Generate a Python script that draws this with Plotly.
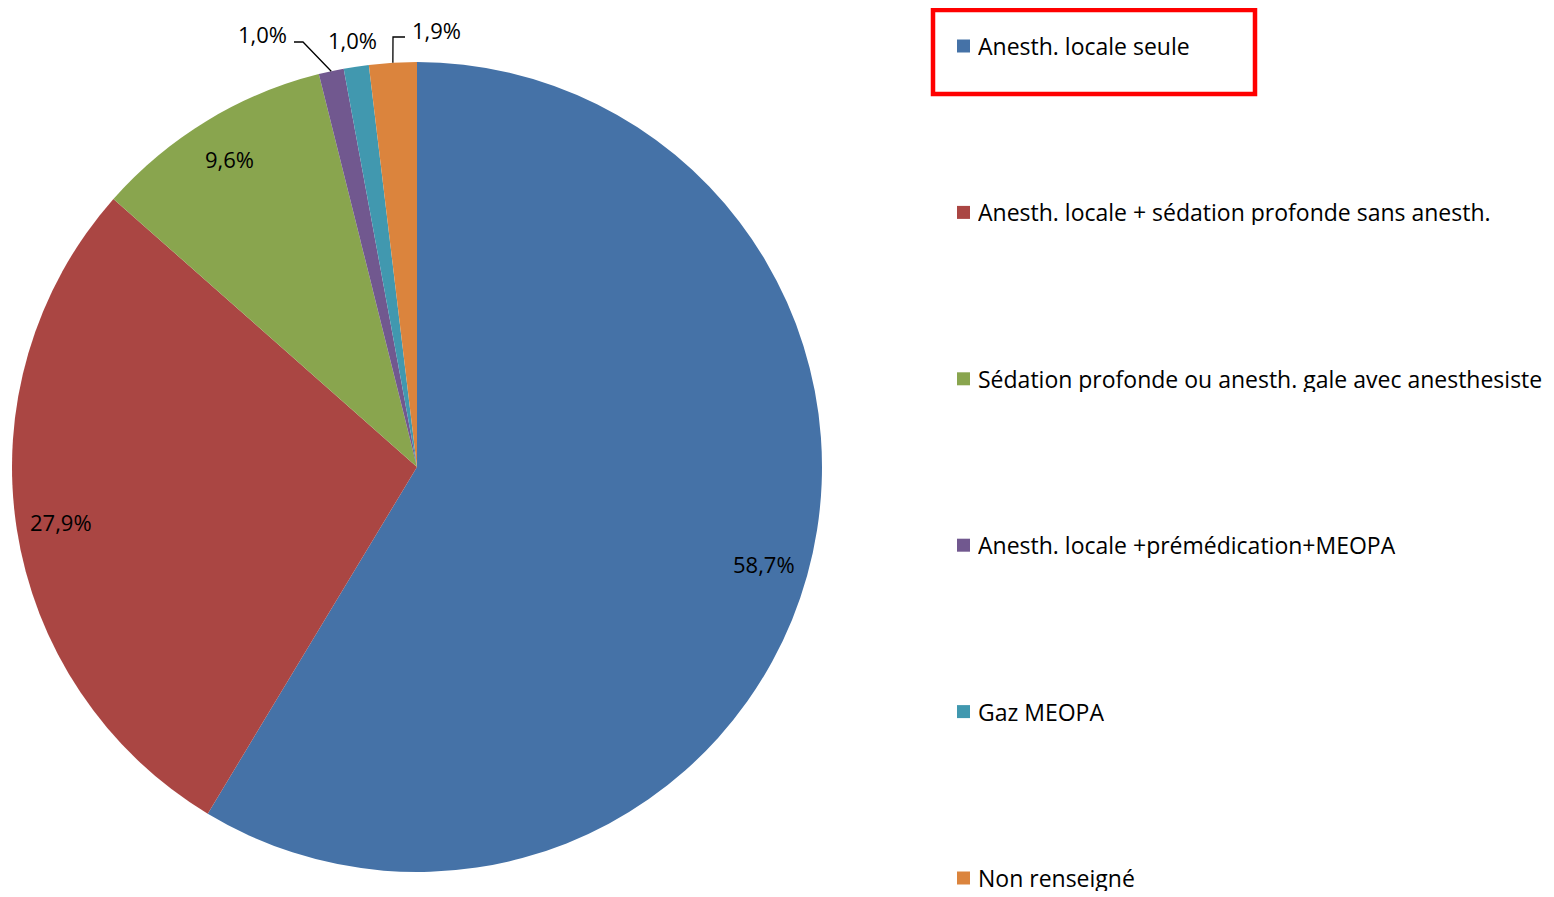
import math
import plotly.graph_objects as go

labels = [
    "Anesth. locale seule",
    "Anesth. locale + sédation profonde sans anesth.",
    "Sédation profonde ou anesth. gale avec anesthesiste",
    "Anesth. locale +prémédication+MEOPA",
    "Gaz MEOPA",
    "Non renseigné",
]
values = [58.7, 27.9, 9.6, 1.0, 1.0, 1.9]
value_text = ["58,7%", "27,9%", "9,6%", "1,0%", "1,0%", "1,9%"]
colors = ["#4572A7", "#AA4643", "#89A54E", "#71588F", "#4198AF", "#DB843D"]

# page body adds an 8px margin, so the figure is drawn 8px in from the top-left
OFF = 8
W, H = 1554 - OFF, 897 - OFF
CX, CY, R = 417 - OFF, 467 - OFF, 405
FONT = "Open Sans"


def px(x, y):
    return x / W, 1 - y / H


def rp(x, y):
    """reference-picture pixel -> paper coords"""
    return px(x - OFF, y - OFF)


fig = go.Figure()
fig.add_trace(go.Pie(
    labels=labels,
    values=values,
    sort=False,
    direction="clockwise",
    rotation=0,
    marker=dict(colors=colors, line=dict(width=0)),
    textinfo="none",
    hoverinfo="label+percent",
    showlegend=False,
    domain=dict(x=[(CX - R) / W, (CX + R) / W], y=[1 - (CY + R) / H, 1 - (CY - R) / H]),
))

total = sum(values)
cum = 0
annotations = []
shapes = []
mids = []
for v in values:
    mid = (cum + v / 2) / total * 2 * math.pi
    mids.append(mid)
    cum += v


def edge(i, f=1.0):
    a = mids[i]
    return CX + R * f * math.sin(a), CY - R * f * math.cos(a)


# inside labels for large slices
for i, v in enumerate(values):
    if v > 5:
        x, y = edge(i, 0.89)
        xp, yp = px(x, y)
        annotations.append(dict(x=xp, y=yp, xref="paper", yref="paper", text=value_text[i],
                                showarrow=False, font=dict(family=FONT, size=22, color="black"),
                                xanchor="center", yanchor="middle"))

# outside labels for small slices (label centres + elbow leader lines, reference pixels)
outside = {3: ((262, 34), [(303, 42), (294, 42)]),
           4: ((352, 40), None),
           5: ((436, 30), [(393, 37), (405, 37)])}
for i, (pos, elbow) in outside.items():
    xp, yp = rp(*pos)
    annotations.append(dict(x=xp, y=yp, xref="paper", yref="paper", text=value_text[i],
                            showarrow=False, font=dict(family=FONT, size=22, color="black"),
                            xanchor="center", yanchor="middle"))
    if elbow:
        ex, ey = edge(i, 1.0)
        pts = [px(ex, ey)] + [rp(a, b) for a, b in elbow]
        path = "M " + " L ".join(f"{a},{b}" for a, b in pts)
        shapes.append(dict(type="path", xref="paper", yref="paper", path=path,
                           line=dict(color="black", width=1.3)))

# manual legend (reference pixels)
LEG_X, LEG_Y0, LEG_DY, SQ = 957, 46, 166.4, 13
for i, lab in enumerate(labels):
    yc = LEG_Y0 + i * LEG_DY
    x0, y0 = rp(LEG_X, yc - SQ / 2)
    x1, y1 = rp(LEG_X + SQ, yc + SQ / 2)
    shapes.append(dict(type="rect", xref="paper", yref="paper", x0=x0, x1=x1, y0=y1, y1=y0,
                       fillcolor=colors[i], line=dict(width=0)))
    tx, ty = rp(LEG_X + SQ + 7, yc)
    annotations.append(dict(x=tx, y=ty, xref="paper", yref="paper", text=lab, showarrow=False,
                            font=dict(family=FONT, size=23, color="black"),
                            xanchor="left", yanchor="middle", height=26, valign="middle",
                            borderpad=0))

# red highlight frame around first legend item
rx0, ry0 = rp(933, 10)
rx1, ry1 = rp(1255, 94)
shapes.append(dict(type="rect", xref="paper", yref="paper", x0=rx0, x1=rx1, y0=ry1, y1=ry0,
                   line=dict(color="#FF0000", width=4.5), fillcolor="rgba(0,0,0,0)"))

fig.update_layout(
    width=W, height=H,
    margin=dict(l=0, r=0, t=0, b=0),
    paper_bgcolor="white",
    plot_bgcolor="white",
    annotations=annotations,
    shapes=shapes,
)

fig.write_html("out.html")
